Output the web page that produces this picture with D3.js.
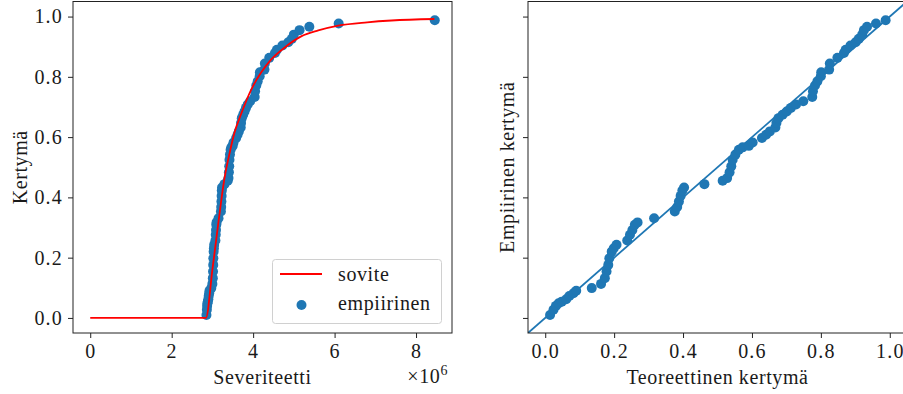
<!DOCTYPE html>
<html>
<head>
<meta charset="utf-8">
<script src="https://cdn.jsdelivr.net/npm/d3@7"></script>
<style>
  body { margin: 0; background: #fff; }
  svg text { font-family: "Liberation Serif", serif; fill: #1a1a1a; letter-spacing: 0.6px; }
  .tick text { letter-spacing: 1.2px; }
</style>
</head>
<body>
<svg id="chart" width="903" height="394"></svg>
<script>
// fitted cdf (severity in 1e6)
const curveSeverity = [0, 2.84, 3.0, 3.15, 3.29, 3.44, 3.54, 3.7, 3.95, 4.2, 4.44, 4.8, 5.19, 5.6, 6.09, 6.8, 7.4, 8.45];
const curveCdf = [0, 0, 0.16, 0.32, 0.458, 0.558, 0.614, 0.675, 0.757, 0.815, 0.857, 0.9, 0.935, 0.954, 0.970, 0.981, 0.987, 0.992];

// empirical points
const empSeverity = [2.854, 2.864, 2.870, 2.878, 2.887, 2.900, 2.909, 2.921, 2.928, 2.973,
  2.999, 3.010, 3.015, 3.020, 3.023, 3.030, 3.036, 3.043, 3.074, 3.082,
  3.089, 3.095, 3.103, 3.150, 3.209, 3.216, 3.221, 3.226, 3.231, 3.236,
  3.296, 3.376, 3.395, 3.405, 3.413, 3.419, 3.431, 3.447, 3.467, 3.499,
  3.519, 3.583, 3.617, 3.649, 3.695, 3.703, 3.721, 3.755, 3.789, 3.824,
  3.867, 3.927, 4.038, 4.048, 4.077, 4.112, 4.161, 4.166, 4.278, 4.288,
  4.396, 4.536, 4.584, 4.719, 4.863, 4.950, 5.00, 5.14, 5.38, 6.10, 8.46];
const empCdf = [0.010, 0.027, 0.040, 0.049, 0.054, 0.062, 0.073, 0.082, 0.090, 0.099,
  0.113, 0.132, 0.154, 0.176, 0.198, 0.220, 0.231, 0.243, 0.257, 0.276,
  0.292, 0.309, 0.317, 0.331, 0.353, 0.368, 0.386, 0.405, 0.423, 0.433,
  0.444, 0.455, 0.464, 0.483, 0.503, 0.525, 0.542, 0.558, 0.566, 0.571,
  0.582, 0.597, 0.608, 0.619, 0.632, 0.647, 0.663, 0.674, 0.685, 0.697,
  0.708, 0.719, 0.733, 0.752, 0.771, 0.785, 0.802, 0.815, 0.824, 0.844,
  0.863, 0.879, 0.890, 0.904, 0.915, 0.926, 0.940, 0.955, 0.966, 0.977, 0.988];
const theoCdf = [0.014, 0.024, 0.031, 0.039, 0.048, 0.061, 0.070, 0.082, 0.090, 0.135,
  0.162, 0.173, 0.178, 0.183, 0.186, 0.193, 0.199, 0.207, 0.238, 0.246,
  0.253, 0.260, 0.268, 0.316, 0.376, 0.383, 0.388, 0.393, 0.398, 0.403,
  0.462, 0.515, 0.528, 0.535, 0.540, 0.544, 0.552, 0.562, 0.573, 0.591,
  0.602, 0.629, 0.641, 0.652, 0.668, 0.671, 0.677, 0.689, 0.701, 0.713,
  0.728, 0.749, 0.775, 0.777, 0.783, 0.790, 0.800, 0.801, 0.824, 0.826,
  0.848, 0.867, 0.872, 0.886, 0.901, 0.910, 0.920, 0.925, 0.934, 0.960, 0.988];

const yTicks = [0, 0.2, 0.4, 0.6, 0.8, 1.0];
const sevTicks = [0, 2, 4, 6, 8];
const ppTicks = [0, 0.2, 0.4, 0.6, 0.8, 1.0];

const blue = "#1f77b4";
const fontSize = 20;
const dotR = 5;
const svg = d3.select("#chart");

const panels = {
  left: { x0: 73, x1: 452, y0: 1.5, y1: 333 },
  right: { x0: 528, x1: 907, y0: 1.5, y1: 333 }
};

const yScale = d3.scaleLinear().domain([-0.05, 1.05]).range([panels.left.y1, panels.left.y0]);
const xSev = d3.scaleLinear().domain([-0.423, 8.883]).range([panels.left.x0, panels.left.x1]);
const xPP = d3.scaleLinear().domain([-0.05, 1.05]).range([panels.right.x0, panels.right.x1]);

function clip(id, p) {
  svg.append("clipPath").attr("id", id).append("rect")
    .attr("x", p.x0).attr("y", p.y0).attr("width", p.x1 - p.x0).attr("height", p.y1 - p.y0);
}
clip("clipL", panels.left);
clip("clipR", panels.right);

function styleAxis(g) {
  g.select(".domain").remove();
  g.selectAll(".tick line").attr("stroke", "#222");
  g.selectAll(".tick text").style("font-size", fontSize + "px").attr("fill", "#1a1a1a");
}

// ---- left panel ----
const gl = svg.append("g");
gl.append("g").attr("clip-path", "url(#clipL)")
  .selectAll("circle").data(empSeverity).enter().append("circle")
  .attr("cx", d => xSev(d)).attr("cy", (d, i) => yScale(empCdf[i]))
  .attr("r", dotR).attr("fill", blue);

// fit line sits on top of the dots
gl.append("g").attr("clip-path", "url(#clipL)")
  .append("path")
  .datum(curveSeverity.map((s, i) => [s, curveCdf[i]]))
  .attr("fill", "none").attr("stroke", "red").attr("stroke-width", 1.8)
  .attr("d", d3.line().x(d => xSev(d[0])).y(d => yScale(d[1])).curve(d3.curveMonotoneX));

gl.append("g").attr("transform", `translate(${panels.left.x0},0)`)
  .call(d3.axisLeft(yScale).tickValues(yTicks).tickFormat(d3.format(".1f")).tickSize(5).tickPadding(5))
  .call(styleAxis);
gl.append("g").attr("transform", `translate(0,${panels.left.y1})`)
  .call(d3.axisBottom(xSev).tickValues(sevTicks).tickFormat(d => d).tickSize(5).tickPadding(6))
  .call(styleAxis);

gl.append("rect").attr("x", panels.left.x0).attr("y", panels.left.y0)
  .attr("width", panels.left.x1 - panels.left.x0).attr("height", panels.left.y1 - panels.left.y0)
  .attr("fill", "none").attr("stroke", "#222").attr("stroke-width", 1);

gl.append("text").attr("x", (panels.left.x0 + panels.left.x1) / 2).attr("y", 384)
  .attr("text-anchor", "middle").style("font-size", fontSize + "px").text("Severiteetti");
const off = gl.append("text").attr("x", 448).attr("y", 383).attr("text-anchor", "end")
  .style("font-size", fontSize + "px");
off.append("tspan").text("×10");
off.append("tspan").attr("dy", -8).style("font-size", "14px").text("6");
gl.append("text").attr("transform", `translate(27,${(panels.left.y0 + panels.left.y1) / 2}) rotate(-90)`)
  .attr("text-anchor", "middle").style("font-size", fontSize + "px").text("Kertymä");

// legend
const lg = gl.append("g");
lg.append("rect").attr("x", 272.5).attr("y", 259.5).attr("width", 169).attr("height", 64)
  .attr("rx", 3).attr("fill", "white").attr("fill-opacity", 0.8).attr("stroke", "#d0d0d0");
lg.append("line").attr("x1", 280).attr("x2", 322).attr("y1", 274).attr("y2", 274)
  .attr("stroke", "red").attr("stroke-width", 1.8);
lg.append("text").attr("x", 338).attr("y", 281).style("font-size", fontSize + "px").text("sovite");
lg.append("circle").attr("cx", 301.5).attr("cy", 305).attr("r", dotR).attr("fill", blue);
lg.append("text").attr("x", 338).attr("y", 310).style("font-size", fontSize + "px").text("empiirinen");

// ---- right panel ----
const gr = svg.append("g");
gr.append("g").attr("clip-path", "url(#clipR)")
  .append("line")
  .attr("x1", xPP(-0.05)).attr("y1", yScale(-0.05)).attr("x2", xPP(1.05)).attr("y2", yScale(1.05))
  .attr("stroke", blue).attr("stroke-width", 1.8);
gr.append("g").attr("clip-path", "url(#clipR)")
  .selectAll("circle").data(theoCdf).enter().append("circle")
  .attr("cx", d => xPP(d)).attr("cy", (d, i) => yScale(empCdf[i]))
  .attr("r", dotR).attr("fill", blue);

gr.append("g").attr("transform", `translate(${panels.right.x0},0)`)
  .call(d3.axisLeft(yScale).tickValues(yTicks).tickFormat("").tickSize(5))
  .call(styleAxis);
gr.append("g").attr("transform", `translate(0,${panels.right.y1})`)
  .call(d3.axisBottom(xPP).tickValues(ppTicks).tickFormat(d3.format(".1f")).tickSize(5).tickPadding(6))
  .call(styleAxis);

gr.append("rect").attr("x", panels.right.x0).attr("y", panels.right.y0)
  .attr("width", panels.right.x1 - panels.right.x0).attr("height", panels.right.y1 - panels.right.y0)
  .attr("fill", "none").attr("stroke", "#222").attr("stroke-width", 1);

gr.append("text").attr("x", (panels.right.x0 + panels.right.x1) / 2).attr("y", 384)
  .attr("text-anchor", "middle").style("font-size", fontSize + "px").text("Teoreettinen kertymä");
gr.append("text").attr("transform", `translate(514,${(panels.right.y0 + panels.right.y1) / 2}) rotate(-90)`)
  .attr("text-anchor", "middle").style("font-size", fontSize + "px").text("Empiirinen kertymä");
</script>
</body>
</html>
